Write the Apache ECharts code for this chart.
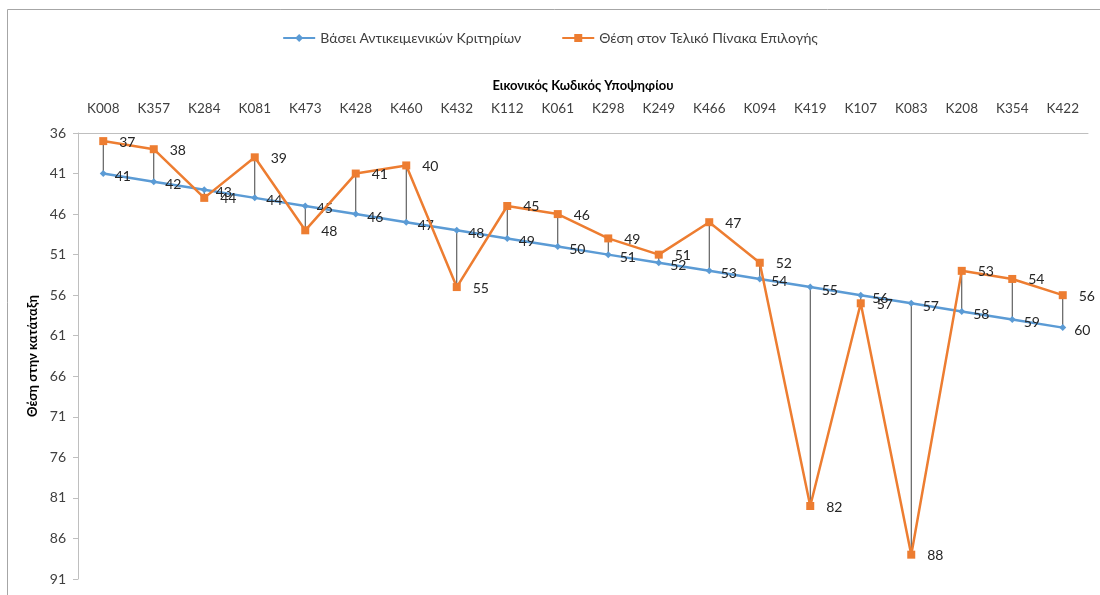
<!DOCTYPE html>
<html><head><meta charset="utf-8">
<style>html,body{margin:0;padding:0;background:#fff;}#c{width:1100px;height:595px;}</style>
<script src="https://cdn.jsdelivr.net/npm/echarts@6/dist/echarts.min.js"></script>
</head><body><div id="c"></div>
<script>
const categories = ['K008','K357','K284','K081','K473','K428','K460','K432','K112','K061','K298','K249','K466','K094','K419','K107','K083','K208','K354','K422'];
const objectiveRank = [41,42,43,44,45,46,47,48,49,50,51,52,53,54,55,56,57,58,59,60];
const finalRank = [37,38,44,39,48,41,40,55,45,46,49,51,47,52,82,57,88,53,54,56];
const yTicks = [36,41,46,51,56,61,66,71,76,81,86,91];
const seriesNames = ['Βάσει Αντικειμενικών Κριτηρίων','Θέση στον Τελικό Πίνακα Επιλογής'];

const FONT = 'Lato, "Noto Sans", sans-serif';
const chart = echarts.init(document.getElementById('c'));
const hiLo = categories.map((c,i)=>[i, objectiveRank[i], finalRank[i]]);
chart.setOption({
  animation:false,
  textStyle:{fontFamily:FONT},
  graphic:[{type:'rect',shape:{x:7.5,y:9.5,width:1200,height:700},style:{fill:'none',stroke:'#a6a6a6',lineWidth:1},silent:true}],
  legend:{
    top:26, left:'center', itemGap:40, itemWidth:32, itemHeight:10,
    textStyle:{fontFamily:FONT,fontSize:14,color:'#404040'},
    data:[{name:seriesNames[0]},{name:seriesNames[1]}]
  },
  grid:{left:78,right:12,top:133,bottom:16,containLabel:false},
  xAxis:{
    type:'category', position:'top', data:categories, boundaryGap:true,
    name:'Εικονικός Κωδικός Υποψηφίου', nameLocation:'middle', nameGap:41,
    nameTextStyle:{fontFamily:FONT,fontSize:13,fontWeight:'bold',color:'#000'},
    axisLine:{show:true,lineStyle:{color:'#bfbfbf',width:1}},
    axisTick:{show:false},
    axisLabel:{fontFamily:FONT,fontSize:13.5,color:'#404040',margin:17,interval:0},
    splitLine:{show:false}
  },
  yAxis:{
    type:'value', inverse:true, min:36, max:91,
    name:'Θέση στην κατάταξη', nameLocation:'middle', nameGap:33, nameRotate:90,
    nameTextStyle:{fontFamily:FONT,fontSize:13,fontWeight:'bold',color:'#000'},
    axisLine:{show:true,lineStyle:{color:'#bfbfbf',width:1}},
    axisTick:{show:true,length:5,customValues:yTicks,lineStyle:{color:'#bfbfbf'}},
    axisLabel:{fontFamily:FONT,fontSize:14,color:'#404040',margin:12,customValues:yTicks},
    splitLine:{show:false}
  },
  series:[
    {
      type:'custom', name:'hilo', silent:true, z:1,
      data:hiLo,
      encode:{x:0,y:[1,2]},
      renderItem:function(params,api){
        const a = api.coord([api.value(0), api.value(1)]);
        const b = api.coord([api.value(0), api.value(2)]);
        return {type:'line',shape:{x1:a[0],y1:a[1],x2:b[0],y2:b[1]},style:{stroke:'#404040',lineWidth:1}};
      }
    },
    {
      name:seriesNames[0], type:'line', data:objectiveRank, z:3,
      symbol:'diamond', symbolSize:7,
      itemStyle:{color:'#5B9BD5'}, lineStyle:{color:'#5B9BD5',width:2.5},
      label:{show:true,position:'right',distance:8,offset:[0,3],fontFamily:FONT,fontSize:14,color:'#262626'}
    },
    {
      name:seriesNames[1], type:'line', data:finalRank, z:4,
      symbol:'rect', symbolSize:8,
      itemStyle:{color:'#ED7D31'}, lineStyle:{color:'#ED7D31',width:2.5},
      label:{show:true,position:'right',distance:12,offset:[0,1],fontFamily:FONT,fontSize:14,color:'#262626'}
    }
  ]
});
</script></body></html>
